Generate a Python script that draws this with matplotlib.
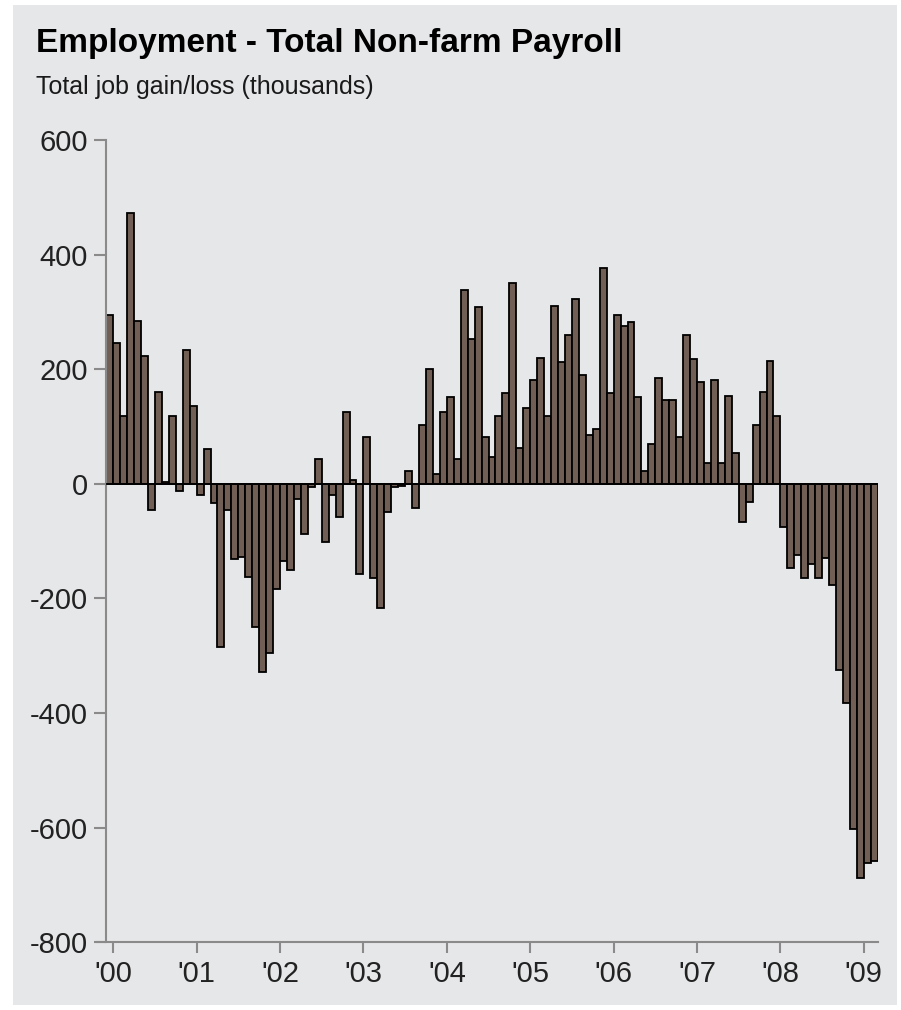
import matplotlib
matplotlib.use("Agg")
import matplotlib.pyplot as plt
from matplotlib import font_manager
from matplotlib.patches import Rectangle
import pandas as pd

# Monthly change in non-farm payrolls, thousands (Dec 1999 - Feb 2009)
months = pd.date_range("1999-12-01", periods=111, freq="MS")
job_change = [
    295, 246, 118, 473, 285, 223, -46, 161, 3, 118, -13, 233,
    135, -19, 60, -33, -284, -46, -131, -128, -163, -249, -328, -295,
    -183, -135, -151, -26, -88, -6, 43, -102, -19, -58, 125, 7,
    -157, 82, -164, -216, -50, -6, -3, 23, -42, 102, 201, 18,
    125, 152, 43, 338, 253, 308, 82, 46, 119, 158, 351, 63,
    132, 181, 220, 119, 311, 213, 260, 322, 190, 86, 95, 377,
    158, 295, 276, 283, 152, 23, 70, 184, 147, 147, 82, 259,
    217, 178, 37, 181, 37, 154, 53, -66, -32, 102, 161, 214,
    118, -76, -147, -125, -164, -140, -164, -130, -177, -325, -383, -602,
    -688, -661, -658,
]
year_labels = ["'00", "'01", "'02", "'03", "'04", "'05", "'06", "'07", "'08", "'09"]
y_ticks = [600, 400, 200, 0, -200, -400, -600, -800]

panel = "#e6e7e9"
axis_grey = "#8a8a8a"
bar_colour = "#715f55"


def has_font(name):
    try:
        font_manager.findfont(name, fallback_to_default=False)
        return True
    except Exception:
        return False


narrow = has_font("Liberation Sans Narrow")
plt.rcParams["font.family"] = ["Liberation Sans", "DejaVu Sans"]

fig = plt.figure(figsize=(9.01, 10.10), dpi=100, facecolor="white")
fig.patches.append(
    Rectangle((13 / 901, 1 - 1005 / 1010), 884 / 901, 1000 / 1010,
              transform=fig.transFigure, facecolor=panel, edgecolor="none", zorder=-5)
)

ax = fig.add_axes([106.3 / 901, 1 - 942.3 / 1010, 771.4 / 901, 802.3 / 1010])
ax.set_zorder(2)
ax.set_facecolor(panel)

x = list(range(len(job_change)))
ax.bar(x, job_change, width=1.0, align="edge", color=bar_colour,
       edgecolor="black", linewidth=1.3, zorder=2)
ax.axhline(0, color="black", linewidth=1.3, zorder=3)

ax.set_xlim(0, len(job_change))
ax.set_ylim(-800, 600)

jan_pos = [i for i, m in enumerate(months) if m.month == 1]
ax.set_xticks(jan_pos)
ax.set_xticklabels(year_labels)
ax.set_yticks(y_ticks)
ax.set_yticklabels([str(v) for v in y_ticks])

for side in ["top", "right"]:
    ax.spines[side].set_visible(False)
for side in ["left", "bottom"]:
    ax.spines[side].set_color(axis_grey)
    ax.spines[side].set_linewidth(1.5)
ax.spines["bottom"].set_bounds(-1.4, len(job_change))
ax.tick_params(axis="y", direction="out", length=9, width=1.5, color=axis_grey,
               labelsize=21, labelcolor="#222222", pad=4)
ax.tick_params(axis="x", direction="out", length=8, width=1.5, color=axis_grey,
               labelsize=21, labelcolor="#222222", pad=5)

fig.text(36 / 901, 1 - 51.7 / 1010, "Employment - Total Non-farm Payroll",
         fontsize=24, fontweight="bold", color="black", ha="left", va="baseline")
if narrow:
    fig.text(36 / 901, 1 - 94.3 / 1010, "Total job gain/loss (thousands)",
             fontsize=19, family=["Liberation Sans Narrow", "Liberation Sans"],
             color="#1a1a1a", ha="left", va="baseline")
else:
    fig.text(36 / 901, 1 - 94.3 / 1010, "Total job gain/loss (thousands)",
             fontsize=18, color="#1a1a1a", ha="left", va="baseline")

fig.savefig("out.png", dpi=100, facecolor="white")
